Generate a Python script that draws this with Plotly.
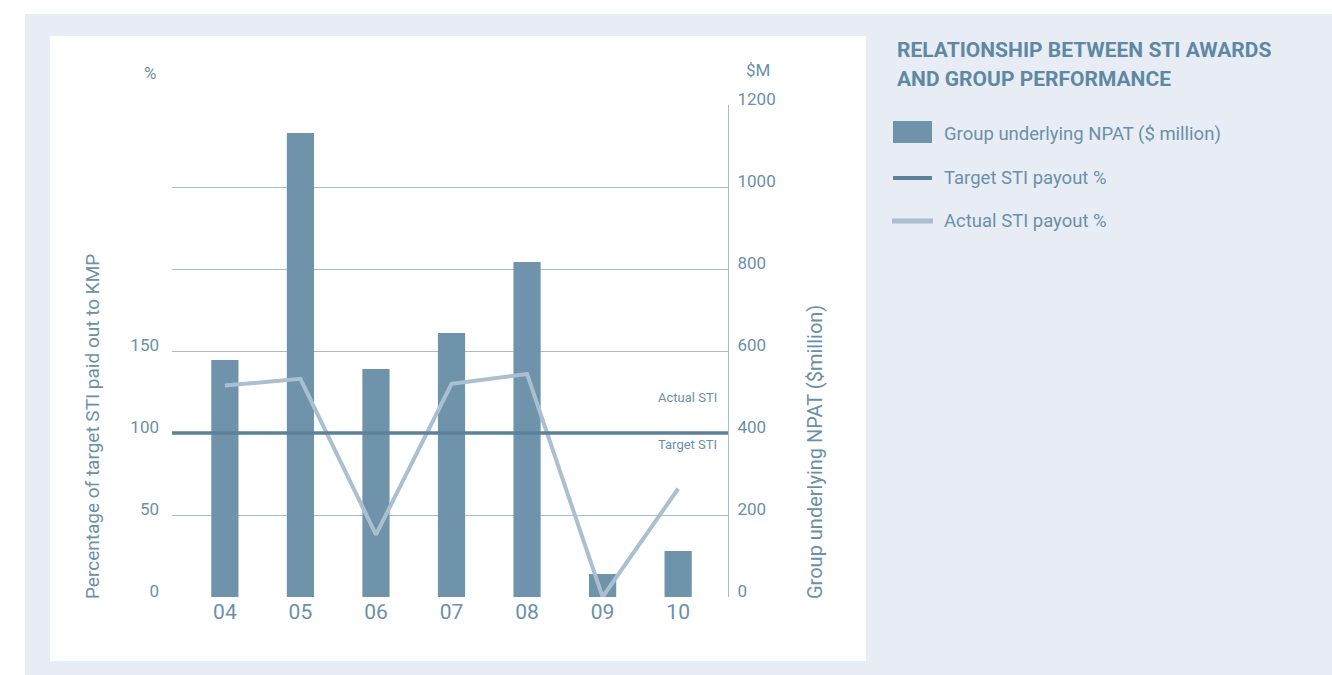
import plotly.graph_objects as go

# ---- data ----
years = ["04", "05", "06", "07", "08", "09", "10"]
npat_million = [578, 1132, 556, 644, 817, 56, 112]
actual_sti_pct = [129, 133, 38, 130, 136, 0, 66]
target_sti_pct = 100
left_ticks = [0, 50, 100, 150]
right_ticks = [0, 200, 400, 600, 800, 1000, 1200]

W, H = 1332, 675
L, R, T, B = 172, 728, 105, 597  # plot area in px

def px(x):
    return (x - L) / (R - L)

def py(y):
    return (B - y) / (B - T)

FONT = "Liberation Sans Narrow, Roboto, Arial, sans-serif"
TXT = "#6b90a9"
BAR = "#6f93ab"
TARGET = "#5b819b"
ACTUAL = "#aabfd0"
GRID = "#a6bbcc"
OUTER = "#e8edf5"

fig = go.Figure()
# bars on the primary (right-side, $M) axis, drawn beneath
fig.add_trace(go.Bar(x=years, y=npat_million, yaxis="y", marker=dict(color=BAR, line=dict(width=0)),
                     width=0.36, name="Group underlying NPAT ($ million)", showlegend=False))
# actual STI % on the overlaying (left-side) axis, drawn on top
fig.add_trace(go.Scatter(x=years, y=actual_sti_pct, yaxis="y2", mode="lines",
                         line=dict(color=ACTUAL, width=4), name="Actual STI payout %", showlegend=False))

shapes = [
    dict(type="rect", xref="paper", yref="paper", x0=px(25), x1=px(1332), y0=py(14), y1=py(675),
         fillcolor=OUTER, line=dict(width=0), layer="below"),
    dict(type="rect", xref="paper", yref="paper", x0=px(50), x1=px(866), y0=py(36), y1=py(661),
         fillcolor="white", line=dict(width=0), layer="below"),
    # target line
    dict(type="line", xref="paper", yref="y2", x0=0, x1=1, y0=target_sti_pct, y1=target_sti_pct,
         line=dict(color=TARGET, width=3.5), layer="above"),
    # legend swatches
    dict(type="rect", xref="paper", yref="paper", x0=px(893), x1=px(932), y0=py(143), y1=py(121),
         fillcolor=BAR, line=dict(width=0)),
    dict(type="line", xref="paper", yref="paper", x0=px(893), x1=px(932), y0=py(178), y1=py(178),
         line=dict(color=TARGET, width=4)),
    dict(type="line", xref="paper", yref="paper", x0=px(892), x1=px(933), y0=py(221), y1=py(221),
         line=dict(color=ACTUAL, width=5)),
]

def ann(text, x, y, xanchor="left", yanchor="middle", size=17, **kw):
    d = dict(text=text, xref="paper", yref="paper", x=px(x), y=py(y), xanchor=xanchor, yanchor=yanchor,
             showarrow=False, font=dict(family=FONT, size=size, color=kw.pop("color", TXT)))
    d.update(kw)
    return d

annotations = [
    ann("<b>RELATIONSHIP BETWEEN STI AWARDS</b>", 895, 50, size=21, color="#5f88a2"),
    ann("<b>AND GROUP PERFORMANCE</b>", 895, 79, size=21, color="#5f88a2"),
    ann("Group underlying NPAT ($ million)", 942, 134, size=18.5),
    ann("Target STI payout %", 942, 178, size=18.5),
    ann("Actual STI payout %", 942, 221, size=18.5),
    ann("%", 150, 73, xanchor="center", size=17),
    ann("$M", 772, 70, xanchor="right", size=17),
    ann("Percentage of target STI paid out to KMP", 92, 427, xanchor="center", size=19, textangle=-90),
    ann("Group underlying NPAT ($million)", 815, 452, xanchor="center", size=20, textangle=-90),
    ann("Actual STI", 719, 397, xanchor="right", size=13),
    ann("Target STI", 719, 444, xanchor="right", size=13),
]

fig.update_layout(
    width=W, height=H,
    margin=dict(l=L, r=W - R, t=T, b=H - B),
    paper_bgcolor="white", plot_bgcolor="rgba(0,0,0,0)",
    showlegend=False,
    font=dict(family=FONT, color=TXT),
    xaxis=dict(type="category", range=[-0.7, 6.66], showgrid=False, showline=False, zeroline=False,
               ticks="", tickfont=dict(family=FONT, size=21, color=TXT), ticklabelstandoff=0),
    yaxis=dict(range=[0, 1200], tickvals=right_ticks, side="right", showgrid=True,
               gridcolor=GRID, gridwidth=1, zeroline=False, showline=True, linecolor=GRID, linewidth=1.2,
               ticks="", tickfont=dict(family=FONT, size=17, color=TXT), ticklabelshift=-6,
               ticklabelstandoff=5),
    yaxis2=dict(range=[0, 300], tickvals=left_ticks, overlaying="y", side="left", showgrid=False,
                zeroline=False, showline=False, ticks="", tickfont=dict(family=FONT, size=17, color=TXT),
                ticklabelshift=-6, ticklabelstandoff=12),
    shapes=shapes,
    annotations=annotations,
)

fig.write_html("out.html")
